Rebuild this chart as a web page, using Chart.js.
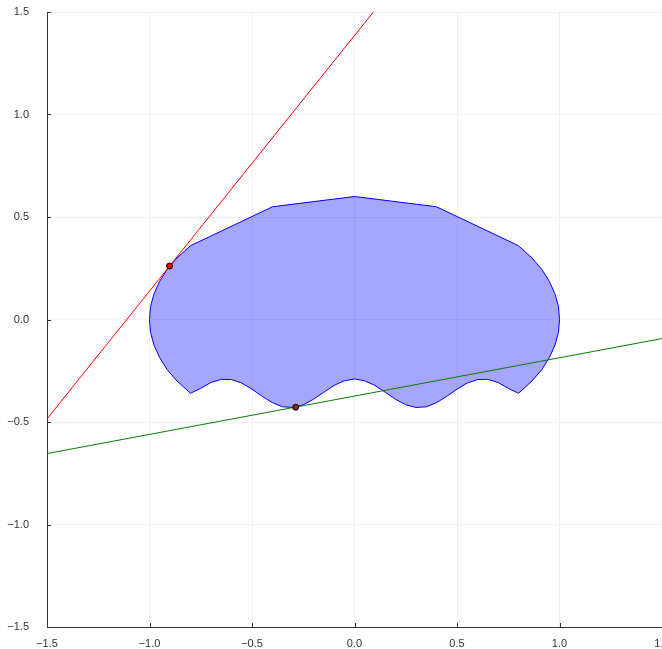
<!DOCTYPE html>
<html>
<head>
<meta charset="utf-8">
<script src="https://cdn.jsdelivr.net/npm/chart.js@4/dist/chart.umd.min.js"></script>
<style>
  html, body { margin: 0; padding: 0; background: #fff; overflow: hidden; }
  canvas { display: block; }
</style>
</head>
<body>
<canvas id="c" width="662" height="649"></canvas>
<script>
// Outline of the shaded region (closed, clockwise from the upper-left corner)
const outlineX = [
  -0.8, -0.4, 0.0, 0.4, 0.8,
  0.866, 0.914, 0.951, 0.978, 0.995, 1.0, 0.995, 0.978, 0.951, 0.914, 0.866, 0.8,
  0.75, 0.70, 0.65, 0.60, 0.55, 0.50, 0.45, 0.40, 0.35, 0.30, 0.25, 0.20, 0.15, 0.10, 0.05,
  0.0,
  -0.05, -0.10, -0.15, -0.20, -0.25, -0.30, -0.35, -0.40, -0.45, -0.50, -0.55, -0.60, -0.65, -0.70, -0.75,
  -0.8, -0.866, -0.914, -0.951, -0.978, -0.995, -1.0, -0.995, -0.978, -0.951, -0.914, -0.866,
  -0.8
];
const outlineY = [
  0.36, 0.55, 0.60, 0.55, 0.36,
  0.30, 0.244, 0.185, 0.125, 0.063, 0.0, -0.063, -0.125, -0.185, -0.244, -0.30, -0.36,
  -0.336, -0.307, -0.292, -0.293, -0.310, -0.340, -0.375, -0.406, -0.426, -0.429, -0.416, -0.389, -0.355, -0.322, -0.299,
  -0.290,
  -0.299, -0.322, -0.355, -0.389, -0.416, -0.429, -0.426, -0.406, -0.375, -0.340, -0.310, -0.293, -0.292, -0.307, -0.336,
  -0.36, -0.30, -0.244, -0.185, -0.125, -0.063, 0.0, 0.063, 0.125, 0.185, 0.244, 0.30,
  0.36
];

// Supporting lines
const redLineX = [-1.5, 0.1];
const redLineY = [-0.485, 1.51];
const greenLineX = [-1.5, 1.5];
const greenLineY = [-0.654, -0.093];

// Contact points
const redPointX = [-0.902];
const redPointY = [0.261];
const greenPointX = [-0.287];
const greenPointY = [-0.428];

// Axis ticks
const tickValues = [-1.5, -1.0, -0.5, 0.0, 0.5, 1.0, 1.5];
const tickLabels = ['\u22121.5', '\u22121.0', '\u22120.5', '0.0', '0.5', '1.0', '1.5'];

const zip = (xs, ys) => xs.map((x, i) => ({ x, y: ys[i] }));

function labelFor(v) {
  const i = tickValues.findIndex(t => Math.abs(t - v) < 1e-9);
  return i >= 0 ? tickLabels[i] : '';
}

// Short tick marks pointing into the plot area
const innerTicks = {
  id: 'innerTicks',
  afterDraw(chart) {
    const { ctx, chartArea, scales } = chart;
    ctx.save();
    ctx.strokeStyle = '#333';
    ctx.lineWidth = 1;
    ctx.beginPath();
    tickValues.forEach(v => {
      const px = Math.round(scales.x.getPixelForValue(v)) + 0.5;
      ctx.moveTo(px, chartArea.bottom);
      ctx.lineTo(px, chartArea.bottom - 4);
      const py = Math.round(scales.y.getPixelForValue(v)) + 0.5;
      ctx.moveTo(chartArea.left, py);
      ctx.lineTo(chartArea.left + 4, py);
    });
    ctx.stroke();
    ctx.restore();
  }
};

const font = { family: '"Liberation Sans", Arial, sans-serif', size: 11 };

new Chart(document.getElementById('c'), {
  type: 'scatter',
  data: {
    datasets: [
      {
        data: zip(redPointX, redPointY),
        pointRadius: 3, pointBackgroundColor: '#ff0000',
        pointBorderColor: '#000', pointBorderWidth: 1, showLine: false
      },
      {
        data: zip(greenPointX, greenPointY),
        pointRadius: 3, pointBackgroundColor: '#8b2e0a',
        pointBorderColor: '#000', pointBorderWidth: 1, showLine: false
      },
      {
        data: zip(redLineX, redLineY),
        showLine: true, borderColor: '#ff0000', borderWidth: 1,
        pointRadius: 0, fill: false
      },
      {
        data: zip(greenLineX, greenLineY),
        showLine: true, borderColor: '#008000', borderWidth: 1,
        pointRadius: 0, fill: false
      },
      {
        data: zip(outlineX, outlineY),
        showLine: true, borderColor: '#0000ff', borderWidth: 1,
        backgroundColor: 'rgba(0,0,255,0.35)', fill: 'shape',
        pointRadius: 0, tension: 0
      }
    ]
  },
  options: {
    responsive: false,
    animation: false,
    layout: { autoPadding: false, padding: { top: 12, right: 0, bottom: 0, left: 0 } },
    plugins: { legend: { display: false }, tooltip: { enabled: false } },
    scales: {
      x: {
        type: 'linear', min: -1.5, max: 1.5,
        afterBuildTicks(scale) { scale.ticks = tickValues.map(v => ({ value: v })); },
        afterFit(scale) { scale.height = 22; scale.paddingLeft = 0; scale.paddingRight = 0; },
        grid: { color: 'rgba(0,0,0,0.055)', drawTicks: false },
        border: { display: true, color: '#333', width: 1 },
        ticks: { callback: v => labelFor(v), color: '#333', font, padding: 10, maxRotation: 0, autoSkip: false }
      },
      y: {
        type: 'linear', min: -1.5, max: 1.5,
        afterBuildTicks(scale) { scale.ticks = tickValues.map(v => ({ value: v })); },
        afterFit(scale) { scale.width = 47; scale.paddingTop = 0; scale.paddingBottom = 0; },
        grid: { color: 'rgba(0,0,0,0.055)', drawTicks: false },
        border: { display: true, color: '#333', width: 1 },
        ticks: { callback: v => labelFor(v), color: '#333', font, padding: 18, autoSkip: false }
      }
    }
  },
  plugins: [innerTicks]
});
</script>
</body>
</html>
